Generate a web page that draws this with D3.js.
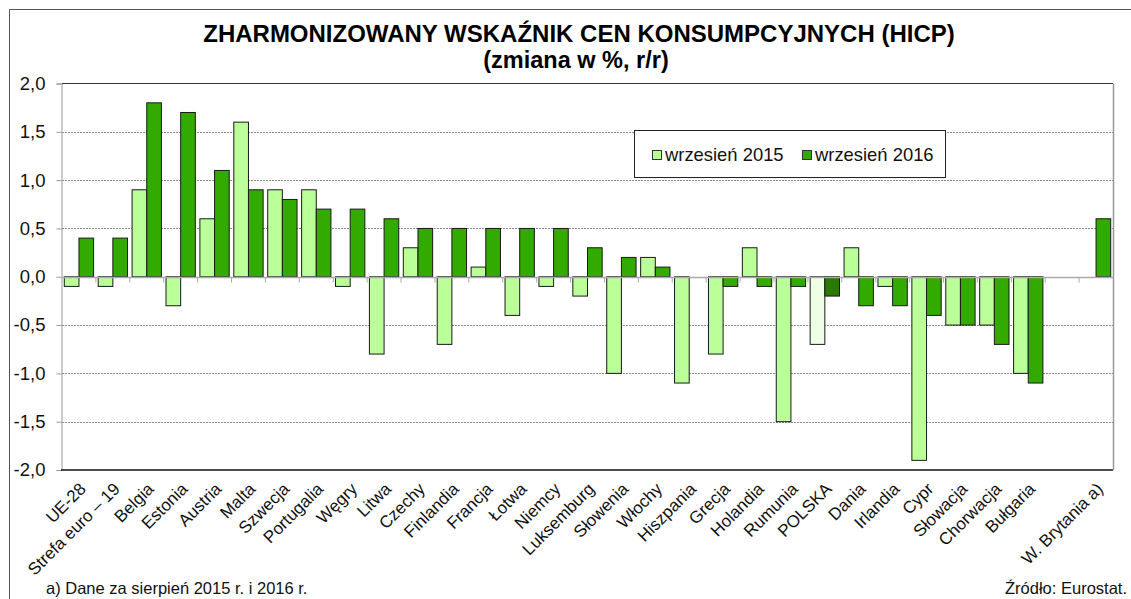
<!DOCTYPE html>
<html>
<head>
<meta charset="utf-8">
<script src="https://cdn.jsdelivr.net/npm/d3@7"></script>
<style>
  html, body { margin: 0; padding: 0; background: #fff; }
  svg { display: block; font-family: "Liberation Sans", Arial, sans-serif; }
</style>
</head>
<body>
<svg id="chart" width="1131" height="599"></svg>
<script>
// HICP, year-on-year change (%), September 2015 vs September 2016
const categories = [
  "UE-28", "Strefa euro – 19", "Belgia", "Estonia", "Austria", "Malta", "Szwecja",
  "Portugalia", "Węgry", "Litwa", "Czechy", "Finlandia", "Francja", "Łotwa", "Niemcy",
  "Luksemburg", "Słowenia", "Włochy", "Hiszpania", "Grecja", "Holandia", "Rumunia",
  "POLSKA", "Dania", "Irlandia", "Cypr", "Słowacja", "Chorwacja", "Bułgaria", "",
  "W. Brytania a)"
];
const values2015 = [
  -0.1, -0.1, 0.9, -0.3, 0.6, 1.6, 0.9,
  0.9, -0.1, -0.8, 0.3, -0.7, 0.1, -0.4, -0.1,
  -0.2, -1.0, 0.2, -1.1, -0.8, 0.3, -1.5,
  -0.7, 0.3, -0.1, -1.9, -0.5, -0.5, -1.0, null,
  0.0
];
const values2016 = [
  0.4, 0.4, 1.8, 1.7, 1.1, 0.9, 0.8,
  0.7, 0.7, 0.6, 0.5, 0.5, 0.5, 0.5, 0.5,
  0.3, 0.2, 0.1, 0.0, -0.1, -0.1, -0.1,
  -0.2, -0.3, -0.3, -0.4, -0.5, -0.7, -1.1, null,
  0.6
];
const seriesNames = ["wrzesień 2015", "wrzesień 2016"];
const yTicks = [2.0, 1.5, 1.0, 0.5, 0.0, -0.5, -1.0, -1.5, -2.0];
const highlight = "POLSKA";

const colors = { light: "#bbff99", dark: "#33aa00", lightHi: "#efffe6", darkHi: "#2a7a00" };

const svg = d3.select("#chart");
const W = 1131, H = 599;
const plot = { left: 62, right: 1113, top: 83.5, bottom: 470 };

// outer frame (left and top edges)
svg.append("path")
  .attr("d", `M9.5,${H} V9.5 H${W}`)
  .attr("fill", "none").attr("stroke", "#555").attr("stroke-width", 1);

// titles
svg.append("text").attr("x", 579).attr("y", 42).attr("text-anchor", "middle")
  .attr("font-size", 24).attr("font-weight", "bold")
  .text("ZHARMONIZOWANY WSKAŹNIK CEN KONSUMPCYJNYCH (HICP)");
svg.append("text").attr("x", 576).attr("y", 68).attr("text-anchor", "middle")
  .attr("font-size", 23.5).attr("font-weight", "bold")
  .text("(zmiana w %, r/r)");

// scales
const x = d3.scaleBand().domain(d3.range(categories.length))
  .range([plot.left, plot.right]).paddingInner(0.135).paddingOuter(0.0675);
const xs = d3.scaleBand().domain([0, 1]).range([0, x.bandwidth()]);
const y = d3.scaleLinear().domain([-2, 2]).range([plot.bottom, plot.top]);
const step = (plot.right - plot.left) / categories.length;

// dotted gridlines
svg.append("g").selectAll("line")
  .data(yTicks.filter(v => v !== 0 && Math.abs(v) !== 2))
  .join("line")
  .attr("x1", plot.left).attr("x2", plot.right)
  .attr("y1", d => Math.round(y(d)) + 0.5).attr("y2", d => Math.round(y(d)) + 0.5)
  .attr("stroke", "#8a8a8a").attr("stroke-width", 1).attr("stroke-dasharray", "2,1");

// y axis
const yAxis = d3.axisLeft(y).tickValues(yTicks).tickSize(5).tickPadding(11)
  .tickFormat(d => d3.format(".1f")(d).replace(".", ",").replace("−", "-"));
const gy = svg.append("g").attr("transform", `translate(${plot.left - 0.5},0)`).call(yAxis);
gy.select(".domain").attr("stroke", "#999");
gy.selectAll(".tick line").attr("stroke", "#999");
gy.selectAll(".tick text").attr("font-size", 18.5).attr("fill", "#111")
  .attr("font-family", "Liberation Sans, Arial, sans-serif");

// plot frame: top/bottom dark, right grey
svg.append("line").attr("x1", plot.left).attr("x2", plot.right)
  .attr("y1", plot.top).attr("y2", plot.top).attr("stroke", "#333");
svg.append("line").attr("x1", plot.left - 1).attr("x2", plot.right)
  .attr("y1", plot.bottom).attr("y2", plot.bottom).attr("stroke", "#111").attr("stroke-width", 1.5);
svg.append("line").attr("x1", plot.right + 0.5).attr("x2", plot.right + 0.5)
  .attr("y1", plot.top).attr("y2", plot.bottom).attr("stroke", "#999").attr("stroke-width", 1.5);

// bars
const rows = categories.map((c, i) => ({ c, i, v: [values2015[i], values2016[i]] }));
const groups = svg.append("g").selectAll("g").data(rows).join("g")
  .attr("transform", d => `translate(${x(d.i)},0)`);
groups.selectAll("rect")
  .data(d => d.v.map((v, k) => ({ v, k, hi: d.c === highlight })).filter(e => e.v !== null))
  .join("rect")
  .attr("x", e => xs(e.k))
  .attr("width", xs.bandwidth())
  .attr("y", e => Math.min(y(e.v), y(0)))
  .attr("height", e => Math.abs(y(e.v) - y(0)))
  .attr("fill", e => e.k === 0 ? (e.hi ? colors.lightHi : colors.light) : (e.hi ? colors.darkHi : colors.dark))
  .attr("stroke", "#1a1a1a").attr("stroke-width", 1);

// zero line with category ticks
const zeroY = Math.round(y(0)) + 0.5;
svg.append("line").attr("x1", plot.left).attr("x2", plot.right)
  .attr("y1", zeroY).attr("y2", zeroY).attr("stroke", "#aaa").attr("stroke-width", 1.5);
svg.append("g").selectAll("line").data(d3.range(1, categories.length))
  .join("line")
  .attr("x1", i => plot.left + i * step).attr("x2", i => plot.left + i * step)
  .attr("y1", zeroY).attr("y2", zeroY + 5)
  .attr("stroke", "#aaa").attr("stroke-width", 1);

// category labels, rotated
svg.append("g").selectAll("text").data(rows.filter(d => d.c))
  .join("text")
  .attr("transform", d => `translate(${x(d.i) + x.bandwidth() / 2 + 8},${plot.bottom + 20}) rotate(-45)`)
  .attr("text-anchor", "end")
  .attr("font-size", 17).attr("fill", "#111")
  .text(d => d.c);

// legend
const lg = svg.append("g");
lg.append("rect").attr("x", 634.5).attr("y", 130.5).attr("width", 311).attr("height", 47)
  .attr("fill", "#fff").attr("stroke", "#222");
const legendX = [652, 802];
seriesNames.forEach((name, k) => {
  lg.append("rect").attr("x", legendX[k] + 0.5).attr("y", 150.5).attr("width", 9).attr("height", 9)
    .attr("fill", k === 0 ? colors.light : colors.dark).attr("stroke", "#333");
  lg.append("text").attr("x", legendX[k] + 13).attr("y", 161)
    .attr("font-size", 18.4).attr("fill", "#111").text(name);
});

// notes
svg.append("text").attr("x", 46).attr("y", 594).attr("font-size", 16.5).attr("fill", "#111")
  .text("a) Dane za sierpień 2015 r. i 2016 r.");
svg.append("text").attr("x", 1127).attr("y", 594).attr("text-anchor", "end")
  .attr("font-size", 16.5).attr("fill", "#111").text("Źródło: Eurostat.");
</script>
</body>
</html>
